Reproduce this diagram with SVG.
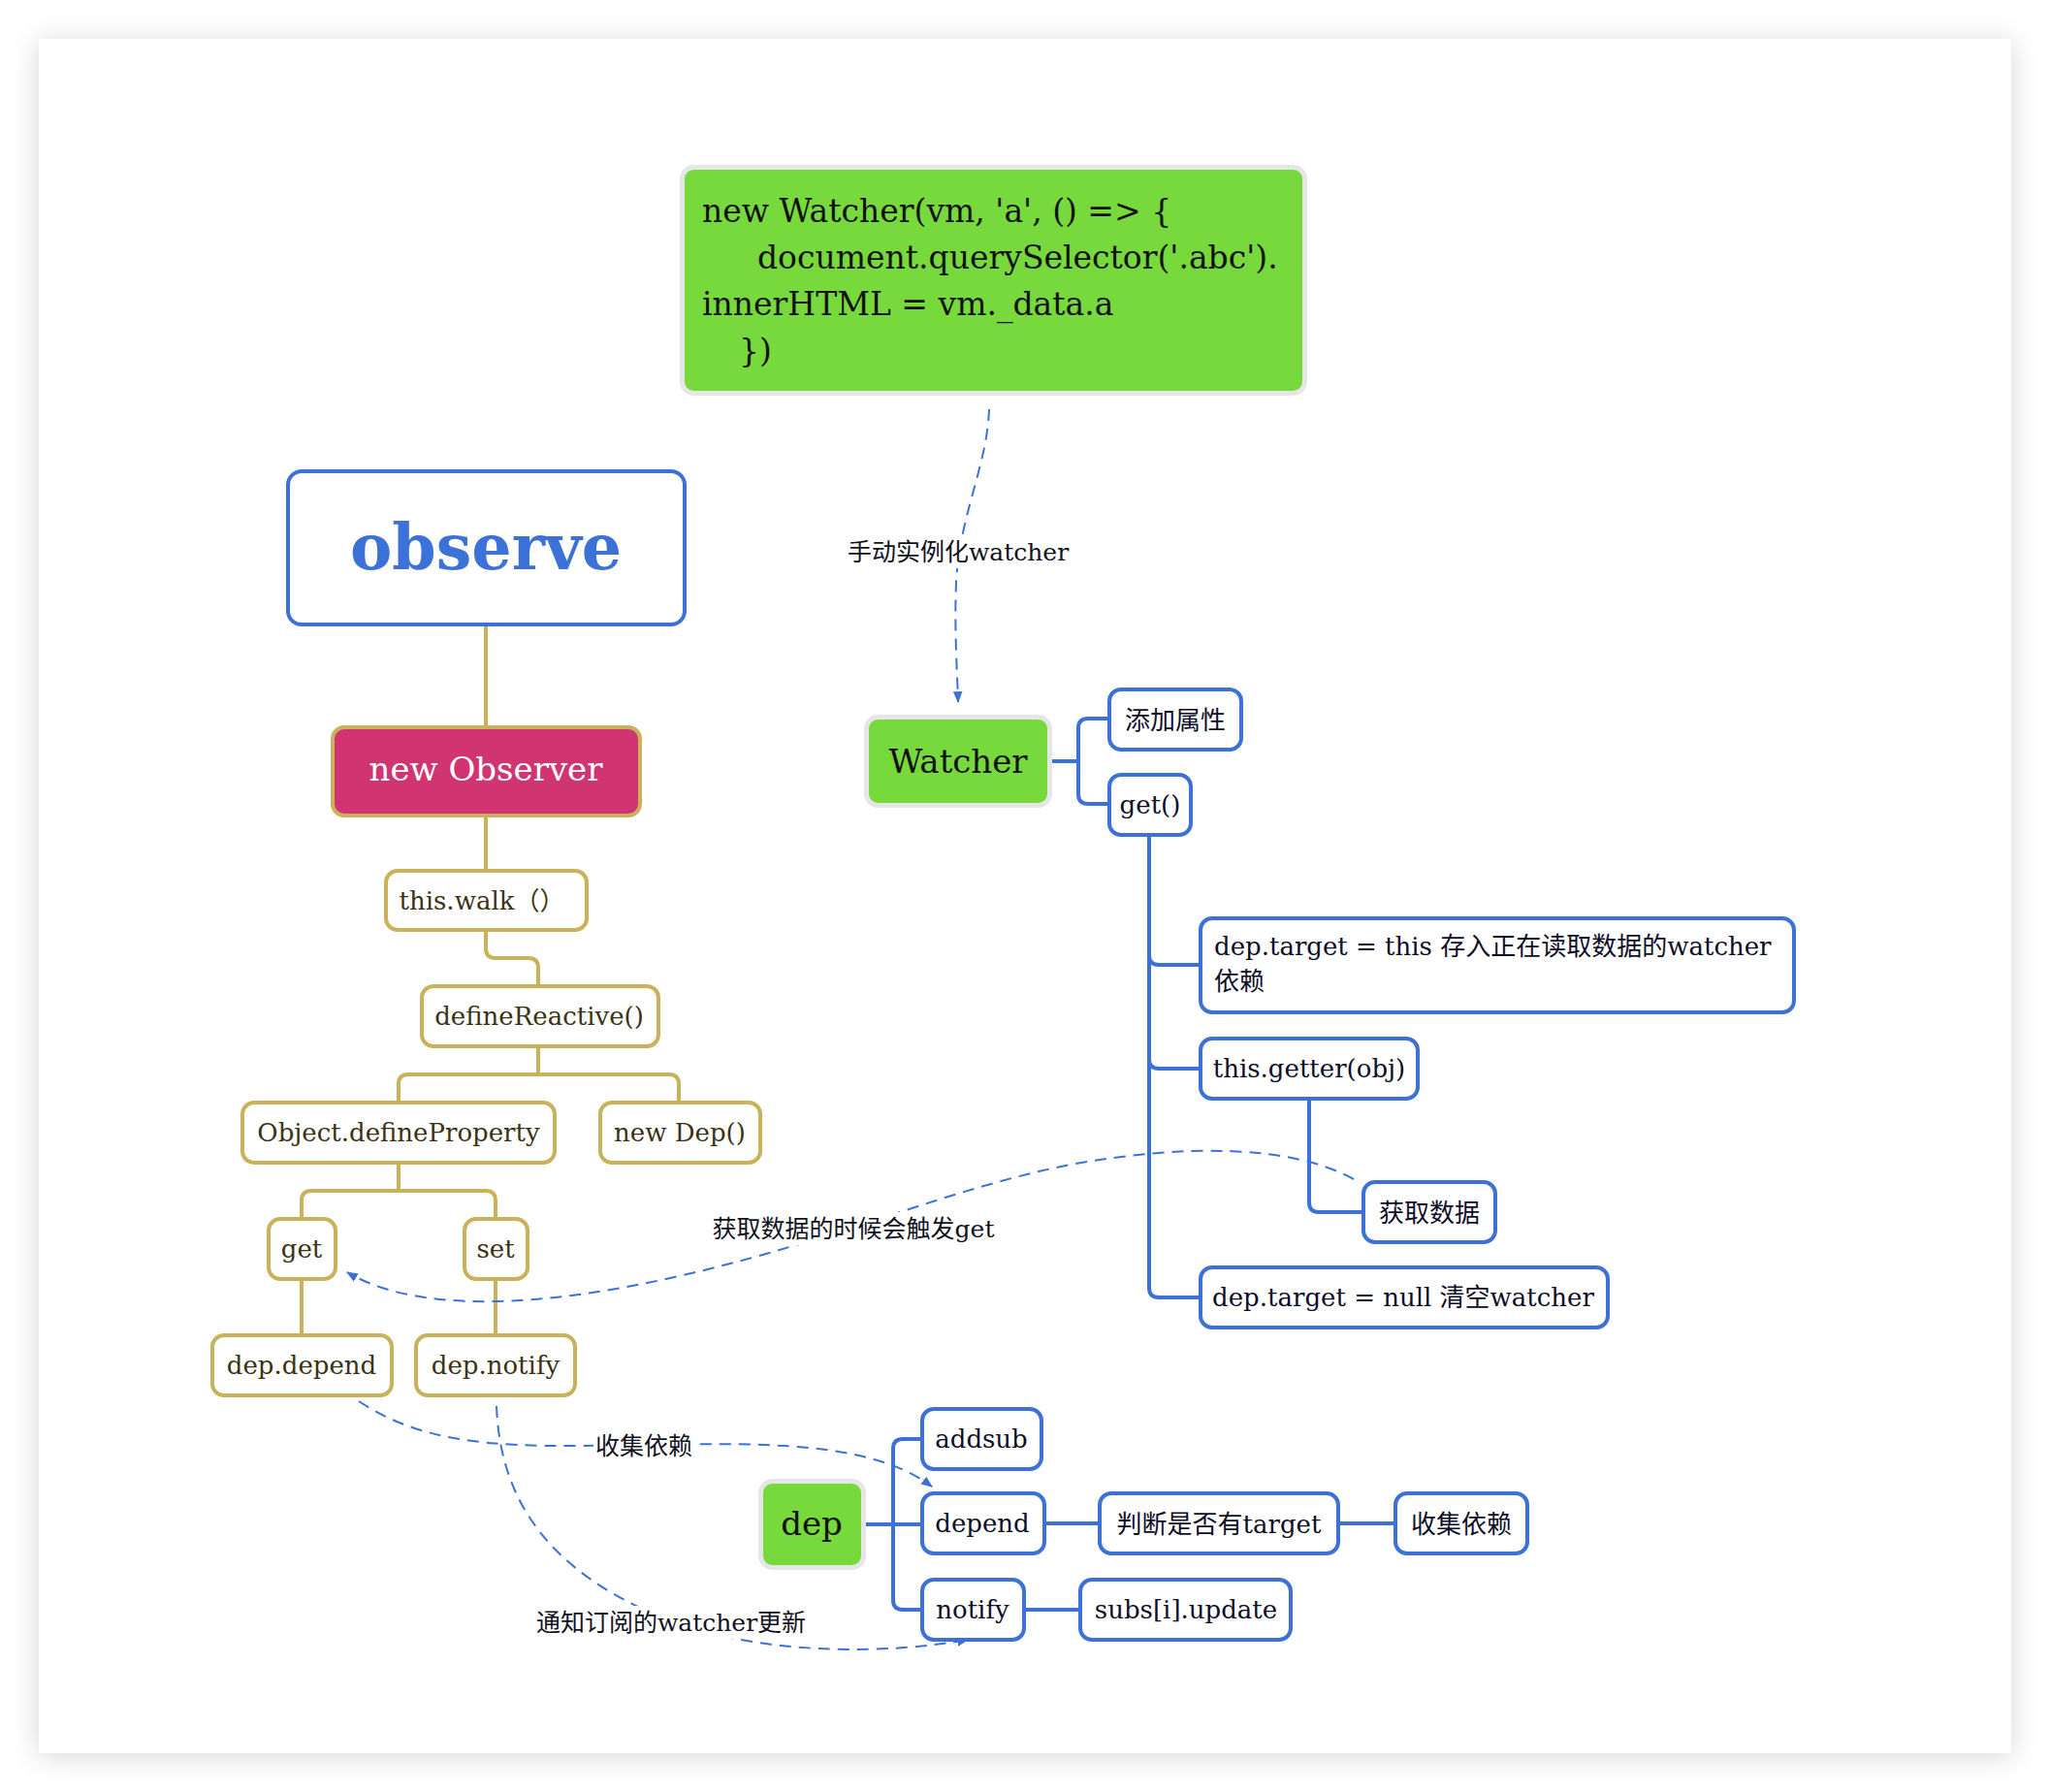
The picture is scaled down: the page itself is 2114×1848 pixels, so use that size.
<svg xmlns="http://www.w3.org/2000/svg" width="2114" height="1848" viewBox="0 0 2114 1848">
<defs>
<filter id="shadow" x="-5%" y="-5%" width="110%" height="110%">
<feDropShadow dx="0" dy="3" stdDeviation="14" flood-color="#000" flood-opacity="0.16"/>
</filter>
<marker id="arr" viewBox="0 0 10 10" refX="9" refY="5" markerWidth="6" markerHeight="6" orient="auto" markerUnits="strokeWidth">
<path d="M0,1 L10,5 L0,9 Z" fill="#3c72d8"/>
</marker>
<style>
.t{font-family:"DejaVu Serif","Noto Sans CJK SC",serif;font-size:26px;}
.gold{fill:#fff;stroke:#c9b25a;stroke-width:4;}
.blue{fill:#fff;stroke:#3c72d8;stroke-width:4;}
.green{fill:#77d93b;stroke:#e6e6e6;stroke-width:5;}
.gt{fill:#3b3214;text-anchor:middle;}
.bt{fill:#0e0e28;text-anchor:middle;}
.gl{fill:none;stroke:#c9b25a;stroke-width:4;}
.bl{fill:none;stroke:#3c72d8;stroke-width:4;}
.dash{fill:none;stroke:#3c72d8;stroke-width:2;stroke-dasharray:12 8;marker-end:url(#arr);}
.lbl{font-family:"Noto Sans CJK SC","DejaVu Serif",sans-serif;font-size:25px;fill:#111122;text-anchor:middle;}
.lbg{fill:#fff;}
</style>
</defs>
<rect x="0" y="0" width="2114" height="1848" fill="#fff"/>
<rect x="40" y="40" width="2034" height="1768" fill="#fff" filter="url(#shadow)"/>

<g id="connectors">
<path class="gl" d="M501,646 V748"/>
<path class="gl" d="M501,843 V896"/>
<path class="gl" d="M501,961 V978 Q501,988 511,988 H545 Q555,988 555,998 V1015"/>
<path class="gl" d="M555,1081 V1108"/>
<path class="gl" d="M411,1135 V1118 Q411,1108 421,1108 H690 Q700,1108 700,1118 V1135"/>
<path class="gl" d="M411,1201 V1228"/>
<path class="gl" d="M311,1255 V1238 Q311,1228 321,1228 H501 Q511,1228 511,1238 V1255"/>
<path class="gl" d="M311,1321 V1375"/>
<path class="gl" d="M511,1321 V1375"/>

<path class="bl" d="M1085,785 H1112"/>
<path class="bl" d="M1142,741 H1122 Q1112,741 1112,751 V819 Q1112,829 1122,829 H1142"/>
<path class="bl" d="M1185,863 V1328 Q1185,1338 1195,1338 H1236"/>
<path class="bl" d="M1185,985 Q1185,995 1195,995 H1236"/>
<path class="bl" d="M1185,1092 Q1185,1102 1195,1102 H1236"/>
<path class="bl" d="M1350,1135 V1240 Q1350,1250 1360,1250 H1404"/>
<path class="bl" d="M893,1572 H949"/>
<path class="bl" d="M949,1484 H931 Q921,1484 921,1494 V1650 Q921,1660 931,1660 H949"/>
<path class="bl" d="M1079,1571 H1132"/>
<path class="bl" d="M1382,1571 H1437"/>
<path class="bl" d="M1058,1660 H1112"/>

<path class="dash" d="M1020,422 C1018,480 990,530 986,600 C984,650 987,690 988,724"/>
<path class="dash" d="M1396,1216 C1330,1180 1220,1180 1104,1201 C980,1225 860,1280 700,1316 C560,1348 430,1355 358,1312"/>
<path class="dash" d="M370,1445 C430,1485 500,1492 600,1491 C760,1489 890,1480 961,1533"/>
<path class="dash" d="M512,1450 C516,1560 580,1630 700,1675 C800,1708 920,1705 998,1691"/>

<rect class="lbg" x="870" y="552" width="236" height="34"/>
<text class="lbl" x="988" y="578">手动实例化<tspan font-family="DejaVu Serif">watcher</tspan></text>
<rect class="lbg" x="728" y="1250" width="303" height="34"/>
<text class="lbl" x="880" y="1276">获取数据的时候会触发<tspan font-family="DejaVu Serif">get</tspan></text>
<rect class="lbg" x="612" y="1474" width="104" height="34"/>
<text class="lbl" x="664" y="1500">收集依赖</text>
<rect class="lbg" x="547" y="1656" width="290" height="34"/>
<text class="lbl" x="692" y="1682">通知订阅的<tspan font-family="DejaVu Serif">watcher</tspan>更新</text>
</g>

<g id="code">
<rect class="green" x="703.5" y="172.5" width="642" height="233" rx="12"/>
<text class="t" style="font-size:33px" fill="#111">
<tspan x="724" y="229">new Watcher(vm, 'a', () =&gt; {</tspan>
<tspan x="781" y="277">document.querySelector('.abc').</tspan>
<tspan x="724" y="325">innerHTML = vm._data.a</tspan>
<tspan x="762" y="373">})</tspan>
</text>
</g>

<g id="observe">
<rect class="blue" x="297" y="486" width="409" height="158" rx="14"/>
<text class="t" x="501" y="587" style="font-size:65px;font-weight:bold" fill="#3c72d8" text-anchor="middle">observe</text>
</g>
<g id="newObserver">
<rect x="343" y="750" width="317" height="91" rx="12" fill="#d03471" stroke="#c9b25a" stroke-width="4"/>
<text class="t" x="501" y="805" style="font-size:34px" fill="#fff" text-anchor="middle">new Observer</text>
</g>
<g id="thisWalk">
<rect class="gold" x="398" y="898" width="207" height="61" rx="12"/>
<text class="t gt" x="497" y="938">this.walk（）</text>
</g>
<g id="defineReactive">
<rect class="gold" x="435" y="1017" width="244" height="62" rx="12"/>
<text class="t gt" x="556" y="1057">defineReactive()</text>
</g>
<g id="objectDefineProperty">
<rect class="gold" x="250" y="1137" width="322" height="62" rx="12"/>
<text class="t gt" x="411" y="1177">Object.defineProperty</text>
</g>
<g id="newDep">
<rect class="gold" x="619" y="1137" width="165" height="62" rx="12"/>
<text class="t gt" x="701" y="1177">new Dep()</text>
</g>
<g id="get">
<rect class="gold" x="277" y="1257" width="69" height="62" rx="12"/>
<text class="t gt" x="311" y="1297">get</text>
</g>
<g id="set">
<rect class="gold" x="479" y="1257" width="65" height="62" rx="12"/>
<text class="t gt" x="511" y="1297">set</text>
</g>
<g id="depDepend">
<rect class="gold" x="219" y="1377" width="185" height="62" rx="12"/>
<text class="t gt" x="311" y="1417">dep.depend</text>
</g>
<g id="depNotify">
<rect class="gold" x="429" y="1377" width="164" height="62" rx="12"/>
<text class="t gt" x="511" y="1417">dep.notify</text>
</g>

<g id="watcher">
<rect class="green" x="893.5" y="739.5" width="189" height="91" rx="12"/>
<text class="t" x="988" y="797" style="font-size:34px" fill="#111" text-anchor="middle">Watcher</text>
</g>
<g id="addProp">
<rect class="blue" x="1144" y="711" width="136" height="62" rx="12"/>
<text class="t bt" x="1212" y="752">添加属性</text>
</g>
<g id="getFn">
<rect class="blue" x="1144" y="799" width="84" height="62" rx="12"/>
<text class="t bt" x="1186" y="839">get()</text>
</g>
<g id="targetThis">
<rect class="blue" x="1238" y="947" width="612" height="97" rx="12"/>
<text class="t" fill="#0e0e28"><tspan x="1252" y="985">dep.target = this 存入正在读取数据的watcher</tspan><tspan x="1252" y="1021">依赖</tspan></text>
</g>
<g id="getter">
<rect class="blue" x="1238" y="1071" width="224" height="62" rx="12"/>
<text class="t bt" x="1350" y="1111">this.getter(obj)</text>
</g>
<g id="fetchData">
<rect class="blue" x="1406" y="1219" width="136" height="62" rx="12"/>
<text class="t bt" x="1474" y="1260">获取数据</text>
</g>
<g id="targetNull">
<rect class="blue" x="1238" y="1307" width="420" height="62" rx="12"/>
<text class="t bt" x="1447" y="1347">dep.target = null 清空watcher</text>
</g>

<g id="dep">
<rect class="green" x="784.5" y="1527.5" width="106" height="89" rx="12"/>
<text class="t" x="837" y="1583" style="font-size:34px" fill="#111" text-anchor="middle">dep</text>
</g>
<g id="addsub">
<rect class="blue" x="951" y="1453" width="123" height="62" rx="12"/>
<text class="t bt" x="1012" y="1493">addsub</text>
</g>
<g id="depend">
<rect class="blue" x="951" y="1540" width="126" height="62" rx="12"/>
<text class="t bt" x="1013" y="1580">depend</text>
</g>
<g id="notify">
<rect class="blue" x="951" y="1629" width="105" height="62" rx="12"/>
<text class="t bt" x="1003" y="1669">notify</text>
</g>
<g id="hasTarget">
<rect class="blue" x="1134" y="1540" width="246" height="62" rx="12"/>
<text class="t bt" x="1257" y="1581">判断是否有target</text>
</g>
<g id="collect">
<rect class="blue" x="1439" y="1540" width="136" height="62" rx="12"/>
<text class="t bt" x="1507" y="1581">收集依赖</text>
</g>
<g id="subsUpdate">
<rect class="blue" x="1114" y="1629" width="217" height="62" rx="12"/>
<text class="t bt" x="1223" y="1669">subs[i].update</text>
</g>
</svg>
